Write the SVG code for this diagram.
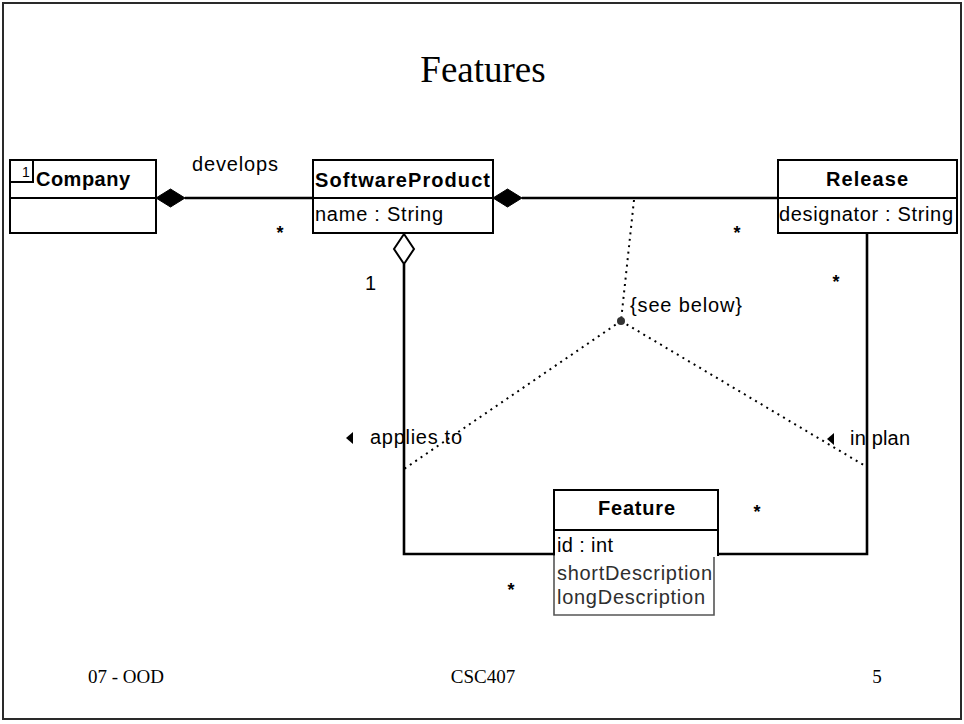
<svg xmlns="http://www.w3.org/2000/svg" width="964" height="724" viewBox="0 0 964 724">
  <style>
    .frame { fill: #ffffff; stroke: #2a2a2a; stroke-width: 2; }
    .box { fill: #ffffff; stroke: #000000; stroke-width: 2; }
    .sep { stroke: #000000; stroke-width: 2; fill: none; }
    .assoc { stroke: #000000; stroke-width: 2.6; fill: none; }
    .dotted { stroke: #000000; stroke-width: 2; fill: none; stroke-dasharray: 2 4.5; }
    .title { font-family: "Liberation Serif", "Times New Roman", serif; font-size: 37px; fill: #000; }
    .foot { font-family: "Liberation Serif", "Times New Roman", serif; font-size: 19px; fill: #000; }
    .cls { font-family: "Liberation Sans", Arial, sans-serif; font-size: 20px; font-weight: bold; fill: #000; }
    .attr { font-family: "Liberation Sans", Arial, sans-serif; font-size: 20px; fill: #000; }
    .attr2 { font-family: "Liberation Sans", Arial, sans-serif; font-size: 20px; fill: #2e2e2e; }
    .lbl { font-family: "Liberation Sans", Arial, sans-serif; font-size: 20px; fill: #000; }
    .mult { font-family: "Liberation Sans", Arial, sans-serif; font-size: 18px; font-weight: bold; fill: #000; text-anchor: middle; }
  </style>

  <!-- slide frame -->
  <rect class="frame" x="3" y="3" width="958" height="716"/>

  <text class="title" x="483" y="82" text-anchor="middle">Features</text>

  <!-- associations -->
  <g id="connectors">
    <!-- Company <>- SoftwareProduct -->
    <line class="assoc" x1="185" y1="198" x2="313" y2="198"/>
    <polygon points="156,198 170.5,189 185,198 170.5,207" fill="#000" stroke="#000" stroke-width="1"/>
    <!-- SoftwareProduct <>- Release -->
    <line class="assoc" x1="522" y1="198" x2="778" y2="198"/>
    <polygon points="493,198 507.5,189 522,198 507.5,207" fill="#000" stroke="#000" stroke-width="1"/>
    <!-- SoftwareProduct <>- Feature (applies to) -->
    <polyline class="assoc" points="404,264 404,554 555,554"/>
    <polygon points="404,234 414,249 404,264 394,249" fill="#fff" stroke="#000" stroke-width="2"/>
    <!-- Release - Feature (in plan) -->
    <polyline class="assoc" points="867,233 867,554 718,554"/>
    <!-- constraint between the three associations -->
    <line class="dotted" x1="634" y1="200" x2="621" y2="321"/>
    <line class="dotted" x1="621" y1="321" x2="404" y2="469"/>
    <line class="dotted" x1="621" y1="321" x2="867" y2="467"/>
    <circle cx="621" cy="321" r="4" fill="#333"/>
    <!-- reading direction markers -->
    <polygon points="346,438 353,432 353,444" fill="#000"/>
    <polygon points="827,439 834,433 834,445" fill="#000"/>

    <text class="lbl" x="192" y="171" textLength="86">develops</text>
    <text class="lbl" x="630" y="312" textLength="112">{see below}</text>
    <text class="lbl" x="370" y="444" textLength="92">applies to</text>
    <text class="lbl" x="850" y="445" textLength="60">in plan</text>
    <text class="lbl" x="365" y="290" textLength="8">1</text>

    <text class="mult" x="280" y="239">*</text>
    <text class="mult" x="737" y="239">*</text>
    <text class="mult" x="836" y="288">*</text>
    <text class="mult" x="757" y="518">*</text>
    <text class="mult" x="511" y="596">*</text>
  </g>

  <g id="Company">
    <rect class="box" x="10" y="160" width="146" height="73"/>
    <line class="sep" x1="10" y1="198" x2="156" y2="198"/>
    <polyline class="sep" points="10,182 33,182 33,160"/>
    <text x="22" y="177" font-family="Liberation Sans, Arial, sans-serif" font-size="14" fill="#000">1</text>
    <text class="cls" x="36" y="186" textLength="94">Company</text>
  </g>

  <g id="SoftwareProduct">
    <rect class="box" x="313" y="160" width="180" height="73"/>
    <line class="sep" x1="313" y1="198" x2="493" y2="198"/>
    <text class="cls" x="315" y="187" textLength="175">SoftwareProduct</text>
    <text class="attr" x="315" y="221" textLength="128">name : String</text>
  </g>

  <g id="Release">
    <rect class="box" x="778" y="160" width="179" height="73"/>
    <line class="sep" x1="778" y1="198" x2="957" y2="198"/>
    <text class="cls" x="826" y="186" textLength="82">Release</text>
    <text class="attr" x="779" y="221" textLength="174">designator : String</text>
  </g>

  <g id="Feature">
    <polyline class="sep" points="554,556 554,490 718,490 718,556"/>
    <line class="sep" x1="554" y1="530" x2="718" y2="530"/>
    <polyline points="554,555 554,615 714,615 714,557" fill="none" stroke="#555" stroke-width="1.6"/>
    <text class="cls" x="598" y="515" textLength="77">Feature</text>
    <text class="attr" x="557" y="552" textLength="56">id : int</text>
    <text class="attr2" x="557" y="580" textLength="155">shortDescription</text>
    <text class="attr2" x="557" y="604" textLength="148">longDescription</text>
  </g>

  <!-- footer -->
  <text class="foot" x="88" y="683">07 - OOD</text>
  <text class="foot" x="483" y="683" text-anchor="middle">CSC407</text>
  <text class="foot" x="877" y="683" text-anchor="middle">5</text>
</svg>
